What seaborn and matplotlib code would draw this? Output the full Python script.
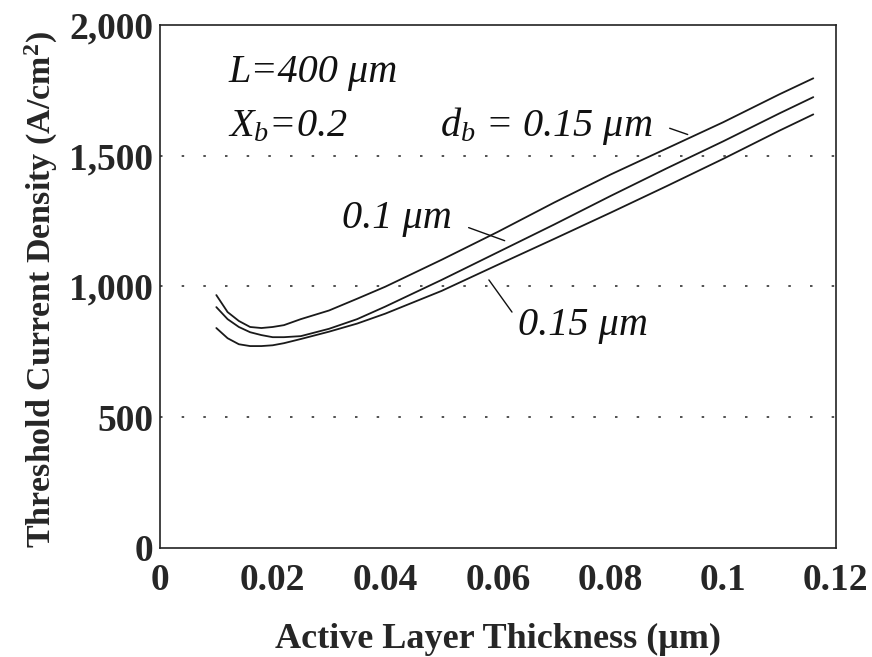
import matplotlib
matplotlib.use("Agg")
import matplotlib.pyplot as plt
import numpy as np
import pandas as pd
import seaborn as sns

# Active layer thickness (um) sampled along each curve
thickness = [0.010, 0.012, 0.014, 0.016, 0.018, 0.020, 0.022, 0.025, 0.030,
             0.035, 0.040, 0.050, 0.060, 0.070, 0.080, 0.090, 0.100, 0.110, 0.116]

# Threshold current density (A/cm^2) for the three barrier thicknesses
jth_upper = [967, 902, 868, 845, 841, 845, 852, 875, 908,
             953, 999, 1102, 1209, 1321, 1428, 1528, 1628, 1735, 1796]
jth_middle = [921, 875, 845, 825, 814, 806, 806, 810, 838,
              875, 923, 1025, 1131, 1237, 1346, 1452, 1555, 1662, 1724]
jth_lower = [841, 802, 779, 772, 772, 775, 783, 799, 827,
             858, 896, 983, 1083, 1182, 1282, 1384, 1488, 1596, 1658]

series_names = ["upper", "middle", "lower"]

x_ticks = [0, 0.02, 0.04, 0.06, 0.08, 0.10, 0.12]
x_tick_labels = ["0", "0.02", "0.04", "0.06", "0.08", "0.1", "0.12"]
y_ticks = [0, 500, 1000, 1500, 2000]
y_tick_labels = ["0", "500", "1,000", "1,500", "2,000"]

df = pd.concat([
    pd.DataFrame({"thickness": thickness, "jth": vals, "series": name})
    for name, vals in zip(series_names, [jth_upper, jth_middle, jth_lower])
], ignore_index=True)

sns.set_theme(style="white")
plt.rcParams["font.family"] = ["Liberation Serif", "DejaVu Serif"]
plt.rcParams["mathtext.fontset"] = "custom"
plt.rcParams["mathtext.rm"] = "Liberation Serif"
plt.rcParams["mathtext.it"] = "Liberation Serif:italic"
plt.rcParams["mathtext.bf"] = "Liberation Serif:bold"

fig = plt.figure(figsize=(8.72, 6.57), dpi=100)
ax = fig.add_axes([0.1835, 0.166, 0.775, 0.796])

sns.lineplot(data=df, x="thickness", y="jth", hue="series",
             palette=["#1a1a1a"] * 3, legend=False, estimator=None,
             sort=False, linewidth=1.3, ax=ax)

ax.set_xlim(0, 0.12)
ax.set_ylim(0, 2000)

# dotted reference lines
for yv in [500, 1000, 1500]:
    ax.axhline(yv, color="#333333", linewidth=1.2,
               linestyle=(0, (1.5, 11.5)), zorder=0)

ax.set_xticks(x_ticks)
ax.set_xticklabels(x_tick_labels, fontsize=27, fontweight="bold")
ax.set_xticks(np.arange(0.005, 0.12, 0.005), minor=True)
ax.set_yticks(y_ticks)
ax.set_yticklabels(y_tick_labels, fontsize=27, fontweight="bold")

ax.tick_params(axis="x", which="both", direction="in", length=7, width=1.0,
               color="#222222", pad=11)
ax.tick_params(axis="y", which="major", direction="in", length=4, width=1.0,
               color="#222222", pad=5)

for sp in ax.spines.values():
    sp.set_visible(True)
    sp.set_color("#222222")
    sp.set_linewidth(1.2)

ax.set_xlabel("Active Layer Thickness (\u03bcm)", fontsize=26, fontweight="bold",
              labelpad=18)
ax.set_ylabel("Threshold Current Density (A/cm$^{\\mathbf{2}}$)", fontsize=24.5,
              fontweight="bold")
ax.yaxis.set_label_coords(-0.148, 0.493)

# annotations
txt_kw = dict(fontsize=29, fontstyle="italic", color="#111111", va="center")
ax.text(0.0121, 1820, "L=400 \u03bcm", **txt_kw)
ax.text(0.0121, 1612, "$X_b$=0.2", **txt_kw)
ax.text(0.0497, 1612, "$d_b$ = 0.15 \u03bcm", **txt_kw)
ax.text(0.0323, 1260, "0.1 \u03bcm", **txt_kw)
ax.text(0.0635, 850, "0.15 \u03bcm", **txt_kw)

# leader lines from labels to curves
lead_kw = dict(color="#111111", linewidth=1.0)
ax.plot([0.0905, 0.0937], [1605, 1581], **lead_kw)
ax.plot([0.0548, 0.0612], [1225, 1175], **lead_kw)
ax.plot([0.0584, 0.0625], [1025, 902], **lead_kw)

fig.savefig("out.png", dpi=100)
